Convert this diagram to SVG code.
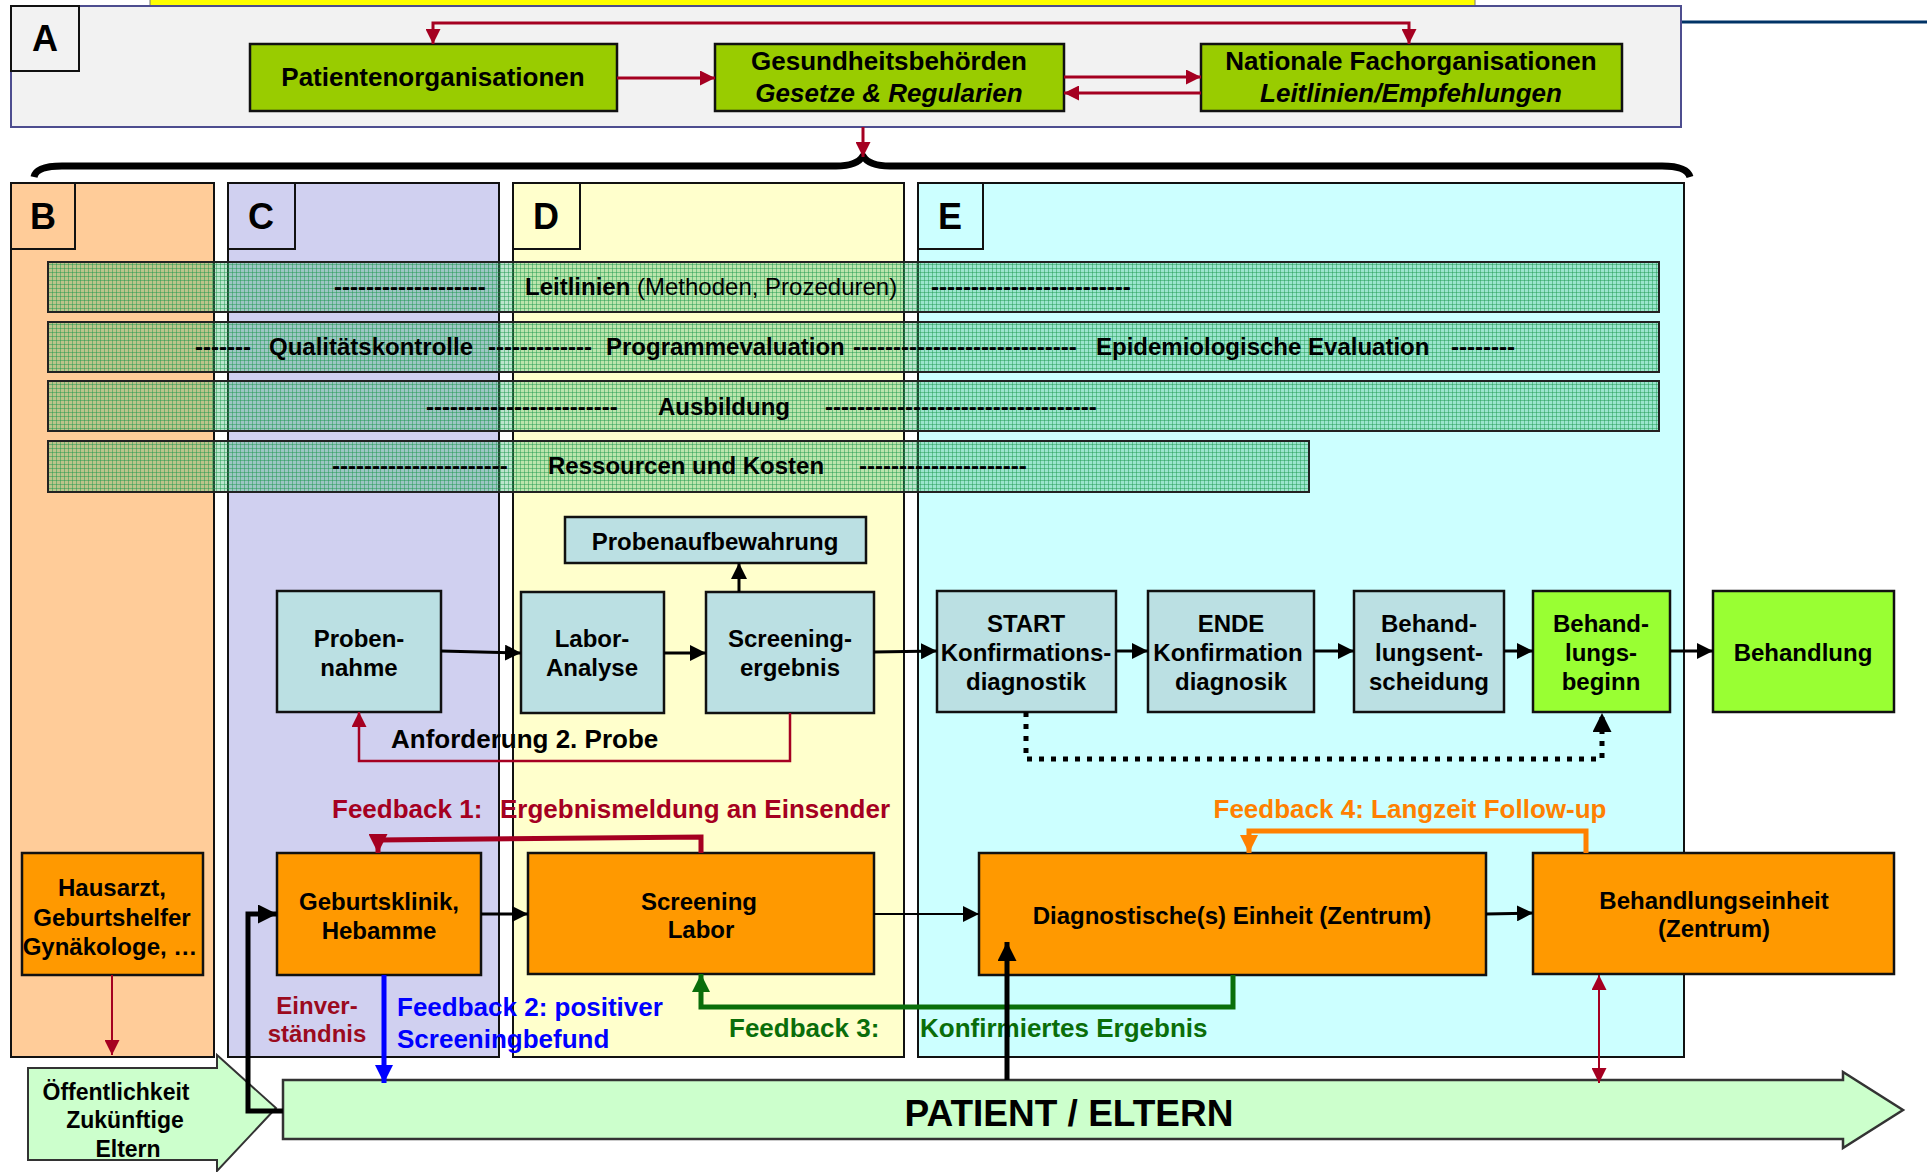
<svg xmlns="http://www.w3.org/2000/svg" width="1927" height="1172" viewBox="0 0 1927 1172">
<style>
text{font-family:"Liberation Sans",Arial,sans-serif;font-weight:bold;fill:#000}
.t26{font-size:26px}
.t24{font-size:24px}
.lbl{font-size:36px}
.c{text-anchor:middle}
.col{stroke:#111;stroke-width:2}
.bar{fill:url(#hatch);stroke:#222;stroke-width:2}
.nb{fill:#bbe0e3;stroke:#111;stroke-width:2.5}
.ng{fill:#99ff33;stroke:#111;stroke-width:2.5}
.no{fill:#ff9900;stroke:#111;stroke-width:2.5}
.ntop{fill:#99cc00;stroke:#111;stroke-width:2.5}
.blk{fill:none;stroke:#000;stroke-width:3;marker-end:url(#ab)}
.red{fill:none;stroke:#a50021;stroke-width:3;marker-end:url(#ar)}
.reg{font-weight:normal}
</style>
<defs>
<pattern id="hatch" width="4" height="4" patternUnits="userSpaceOnUse">
<rect width="4" height="4" fill="#3cb46e" fill-opacity="0.35"/>
<rect width="1" height="4" fill="#16954a" fill-opacity="0.45"/>
<rect width="4" height="1" fill="#16954a" fill-opacity="0.45"/>
</pattern>
<marker id="ab" viewBox="0 0 10 10" refX="10" refY="5" markerWidth="16" markerHeight="16" orient="auto-start-reverse" markerUnits="userSpaceOnUse"><path d="M0,0 L10,5 L0,10 z" fill="#000"/></marker>
<marker id="abL" viewBox="0 0 10 10" refX="10" refY="5" markerWidth="19" markerHeight="19" orient="auto-start-reverse" markerUnits="userSpaceOnUse"><path d="M0,0 L10,5 L0,10 z" fill="#000"/></marker>
<marker id="ar" viewBox="0 0 10 10" refX="10" refY="5" markerWidth="15" markerHeight="15" orient="auto-start-reverse" markerUnits="userSpaceOnUse"><path d="M0,0 L10,5 L0,10 z" fill="#a50021"/></marker>
<marker id="arL" viewBox="0 0 10 10" refX="10" refY="5" markerWidth="19" markerHeight="19" orient="auto-start-reverse" markerUnits="userSpaceOnUse"><path d="M0,0 L10,5 L0,10 z" fill="#a50021"/></marker>
<marker id="abl" viewBox="0 0 10 10" refX="10" refY="5" markerWidth="18" markerHeight="18" orient="auto" markerUnits="userSpaceOnUse"><path d="M0,0 L10,5 L0,10 z" fill="#0000ff"/></marker>
<marker id="agr" viewBox="0 0 10 10" refX="10" refY="5" markerWidth="18" markerHeight="18" orient="auto" markerUnits="userSpaceOnUse"><path d="M0,0 L10,5 L0,10 z" fill="#0a6e0a"/></marker>
<marker id="aor" viewBox="0 0 10 10" refX="10" refY="5" markerWidth="18" markerHeight="18" orient="auto" markerUnits="userSpaceOnUse"><path d="M0,0 L10,5 L0,10 z" fill="#ff8000"/></marker>
</defs>
<rect width="1927" height="1172" fill="#fff"/>

<!-- top strip and panel A -->
<rect x="150" y="-3" width="1325" height="9" fill="#ffff00" stroke="#777" stroke-width="1"/>
<line x1="1681" y1="22" x2="1927" y2="22" stroke="#003366" stroke-width="3"/>
<g id="panelA">
<rect x="11" y="6" width="1670" height="121" fill="#f2f2f2" stroke="#4d4d8f" stroke-width="2"/>
<rect x="11" y="6" width="68" height="65" fill="#f2f2f2" stroke="#111" stroke-width="2"/>
<text class="lbl c" x="45" y="51">A</text>
</g>

<!-- brace -->
<path d="M34,177 Q36,166 62,166 L836,166 Q857,166 863,156 Q869,166 890,166 L1662,166 Q1687,166 1690,177" fill="none" stroke="#000" stroke-width="7" stroke-linejoin="round"/>

<!-- columns -->
<g id="colB"><rect class="col" x="11" y="183" width="203" height="874" fill="#ffcc99"/><rect class="col" x="11" y="183" width="64" height="66" fill="#ffcc99"/><text class="lbl c" x="43" y="229">B</text></g>
<g id="colC"><rect class="col" x="228" y="183" width="271" height="874" fill="#d0d0f0"/><rect class="col" x="228" y="183" width="67" height="66" fill="#d0d0f0"/><text class="lbl c" x="261" y="229">C</text></g>
<g id="colD"><rect class="col" x="513" y="183" width="391" height="874" fill="#ffffcc"/><rect class="col" x="513" y="183" width="67" height="66" fill="#ffffcc"/><text class="lbl c" x="546" y="229">D</text></g>
<g id="colE"><rect class="col" x="918" y="183" width="766" height="874" fill="#ccffff"/><rect class="col" x="918" y="183" width="65" height="66" fill="#ccffff"/><text class="lbl c" x="950" y="229">E</text></g>

<!-- bars -->
<g id="bar-leitlinien">
<rect class="bar" x="48" y="262" width="1611" height="50"/>
<text class="t24" x="334" y="295">-------------------</text>
<text class="t24" x="525" y="295">Leitlinien<tspan class="reg"> (Methoden, Prozeduren)</tspan></text>
<text class="t24" x="931" y="295">-------------------------</text>
</g>
<g id="bar-qualitaet">
<rect class="bar" x="48" y="322" width="1611" height="50"/>
<text class="t24" x="195" y="355">-------</text>
<text class="t24" x="269" y="355">Qualitätskontrolle</text>
<text class="t24" x="488" y="355">-------------</text>
<text class="t24" x="606" y="355">Programmevaluation</text>
<text class="t24" x="853" y="355">----------------------------</text>
<text class="t24" x="1096" y="355">Epidemiologische Evaluation</text>
<text class="t24" x="1451" y="355">--------</text>
</g>
<g id="bar-ausbildung">
<rect class="bar" x="48" y="381" width="1611" height="50"/>
<text class="t24" x="426" y="415">------------------------</text>
<text class="t24" x="658" y="415">Ausbildung</text>
<text class="t24" x="825" y="415">----------------------------------</text>
</g>
<g id="bar-ressourcen">
<rect class="bar" x="48" y="441" width="1261" height="51"/>
<text class="t24" x="332" y="474">----------------------</text>
<text class="t24" x="548" y="474">Ressourcen und Kosten</text>
<text class="t24" x="859" y="474">---------------------</text>
</g>

<!-- top nodes -->
<g id="n-patientenorg"><rect class="ntop" x="250" y="44" width="367" height="67"/><text class="t26 c" x="433" y="86">Patientenorganisationen</text></g>
<g id="n-gesundheit"><rect class="ntop" x="715" y="44" width="349" height="67"/><text class="t26 c" x="889" y="70">Gesundheitsbehörden</text><text class="t26 c" x="889" y="102" font-style="italic">Gesetze &amp; Regularien</text></g>
<g id="n-national"><rect class="ntop" x="1201" y="44" width="421" height="67"/><text class="t26 c" x="1411" y="70">Nationale Fachorganisationen</text><text class="t26 c" x="1411" y="102" font-style="italic">Leitlinien/Empfehlungen</text></g>

<!-- middle row -->
<g id="n-probenaufbewahrung"><rect class="nb" x="565" y="517" width="301" height="46"/><text class="t24 c" x="715" y="550">Probenaufbewahrung</text></g>
<g id="n-probennahme"><rect class="nb" x="277" y="591" width="164" height="121"/><text class="t24 c" x="359" y="647">Proben-</text><text class="t24 c" x="359" y="676">nahme</text></g>
<g id="n-laboranalyse"><rect class="nb" x="521" y="592" width="143" height="121"/><text class="t24 c" x="592" y="647">Labor-</text><text class="t24 c" x="592" y="676">Analyse</text></g>
<g id="n-screeningergebnis"><rect class="nb" x="706" y="592" width="168" height="121"/><text class="t24 c" x="790" y="647">Screening-</text><text class="t24 c" x="790" y="676">ergebnis</text></g>
<g id="n-start"><rect class="nb" x="937" y="591" width="179" height="121"/><text class="t24 c" x="1026" y="632">START</text><text class="t24 c" x="1026" y="661">Konfirmations-</text><text class="t24 c" x="1026" y="690">diagnostik</text></g>
<g id="n-ende"><rect class="nb" x="1148" y="591" width="166" height="121"/><text class="t24 c" x="1231" y="632">ENDE</text><text class="t24 c" x="1228" y="661">Konfirmation</text><text class="t24 c" x="1231" y="690">diagnosik</text></g>
<g id="n-entscheidung"><rect class="nb" x="1354" y="591" width="150" height="121"/><text class="t24 c" x="1429" y="632">Behand-</text><text class="t24 c" x="1429" y="661">lungsent-</text><text class="t24 c" x="1429" y="690">scheidung</text></g>
<g id="n-beginn"><rect class="ng" x="1533" y="591" width="137" height="121"/><text class="t24 c" x="1601" y="632">Behand-</text><text class="t24 c" x="1601" y="661">lungs-</text><text class="t24 c" x="1601" y="690">beginn</text></g>
<g id="n-behandlung"><rect class="ng" x="1713" y="591" width="181" height="121"/><text class="t24 c" x="1803" y="661">Behandlung</text></g>

<!-- bottom row -->
<g id="n-hausarzt"><rect class="no" x="22" y="853" width="181" height="122"/><text class="t24 c" x="112" y="896">Hausarzt,</text><text class="t24 c" x="112" y="926">Geburtshelfer</text><text class="t24 c" x="110" y="955">Gynäkologe, …</text></g>
<g id="n-geburtsklinik"><rect class="no" x="277" y="853" width="204" height="122"/><text class="t24 c" x="379" y="910">Geburtsklinik,</text><text class="t24 c" x="379" y="939">Hebamme</text></g>
<g id="n-screeninglabor"><rect class="no" x="528" y="853" width="346" height="121"/><text class="t24 c" x="699" y="910">Screening</text><text class="t24 c" x="701" y="938">Labor</text></g>
<g id="n-diagnostik"><rect class="no" x="979" y="853" width="507" height="122"/><text class="t24 c" x="1232" y="924">Diagnostische(s) Einheit (Zentrum)</text></g>
<g id="n-behandlungseinheit"><rect class="no" x="1533" y="853" width="361" height="121"/><text class="t24 c" x="1714" y="909">Behandlungseinheit</text><text class="t24 c" x="1714" y="937">(Zentrum)</text></g>

<!-- patient bar and public arrow -->
<g id="n-patient"><polygon points="283,1080 1843,1080 1843,1072 1903,1110 1843,1148 1843,1139 283,1139" fill="#ccffcc" stroke="#333" stroke-width="2.5"/><text class="c" x="1069" y="1126" font-size="37">PATIENT / ELTERN</text></g>
<g id="n-oeffentlichkeit"><polygon points="28,1068 217,1068 217,1055 276,1108 217,1171 217,1160 28,1160" fill="#ccffcc" stroke="#333" stroke-width="2"/><text class="c" x="116" y="1100" font-size="23">Öffentlichkeit</text><text class="c" x="125" y="1128" font-size="23">Zukünftige</text><text class="c" x="128" y="1157" font-size="23">Eltern</text></g>

<!-- labels -->
<g id="labels">
<text class="t26" x="391" y="748">Anforderung 2. Probe</text>
<text class="t26" x="332" y="818" style="fill:#a50021">Feedback 1:</text>
<text class="t26" x="500" y="818" style="fill:#a50021">Ergebnismeldung an Einsender</text>
<text class="t26 c" x="1410" y="818" style="fill:#ff8000">Feedback 4: Langzeit Follow-up</text>
<text class="t24 c" x="317" y="1014" style="fill:#9b0a1e">Einver-</text>
<text class="t24 c" x="317" y="1042" style="fill:#9b0a1e">ständnis</text>
<text class="t26" x="397" y="1016" style="fill:#0000ff">Feedback 2: positiver</text>
<text class="t26" x="397" y="1048" style="fill:#0000ff">Screeningbefund</text>
<text class="t26" x="729" y="1037" style="fill:#0a6e0a">Feedback 3:</text>
<text class="t26" x="920" y="1037" style="fill:#0a6e0a">Konfirmiertes Ergebnis</text>
</g>

<!-- connectors -->
<g id="connectors">
<line class="red" x1="617" y1="78" x2="715" y2="78"/>
<line class="red" x1="1064" y1="77" x2="1201" y2="77"/>
<line class="red" x1="1201" y1="93" x2="1064" y2="93"/>
<path d="M433,44 L433,23 L1409,23 L1409,44" fill="none" stroke="#a50021" stroke-width="3" marker-start="url(#ar)" marker-end="url(#ar)"/>
<line class="red" x1="863" y1="127" x2="863" y2="157"/>

<line class="blk" x1="441" y1="651" x2="521" y2="653"/>
<line class="blk" x1="664" y1="653" x2="706" y2="653"/>
<line class="blk" x1="739" y1="592" x2="739" y2="563"/>
<line class="blk" x1="874" y1="652" x2="937" y2="651"/>
<line class="blk" x1="1116" y1="651" x2="1148" y2="651"/>
<line class="blk" x1="1314" y1="651" x2="1354" y2="651"/>
<line class="blk" x1="1504" y1="651" x2="1533" y2="651"/>
<line class="blk" x1="1670" y1="651" x2="1713" y2="651"/>
<path d="M790,713 L790,761 L359,761 L359,712" fill="none" stroke="#a50021" stroke-width="2.5" marker-end="url(#ar)"/>
<path d="M1026,712 L1026,759 L1602,759 L1602,713" fill="none" stroke="#000" stroke-width="5" stroke-dasharray="5 7" marker-end="url(#abL)"/>

<path d="M701,853 L701,837 L378,840 L378,853" fill="none" stroke="#a50021" stroke-width="5" marker-end="url(#arL)"/>
<path d="M1586,853 L1586,831 L1249,831 L1249,853" fill="none" stroke="#ff8000" stroke-width="5" marker-end="url(#aor)"/>
<path d="M1233,975 L1233,1007 L701,1007 L701,974" fill="none" stroke="#0a6e0a" stroke-width="5" marker-end="url(#agr)"/>
<line x1="384" y1="975" x2="384" y2="1083" stroke="#0000ff" stroke-width="5" marker-end="url(#abl)"/>
<line class="blk" x1="481" y1="914" x2="528" y2="914"/>
<line x1="874" y1="914" x2="979" y2="914" stroke="#000" stroke-width="2" marker-end="url(#ab)"/>
<line class="blk" x1="1486" y1="914" x2="1533" y2="913"/>
<path d="M283,1111 L248,1111 L248,914 L277,914" fill="none" stroke="#000" stroke-width="5" marker-end="url(#abL)"/>
<line x1="1007" y1="1080" x2="1007" y2="942" stroke="#000" stroke-width="5" marker-end="url(#abL)"/>
<line x1="1599" y1="975" x2="1599" y2="1083" stroke="#a50021" stroke-width="2" marker-start="url(#ar)" marker-end="url(#ar)"/>
<line x1="112" y1="975" x2="112" y2="1055" stroke="#a50021" stroke-width="2" marker-end="url(#ar)"/>
</g>
</svg>
